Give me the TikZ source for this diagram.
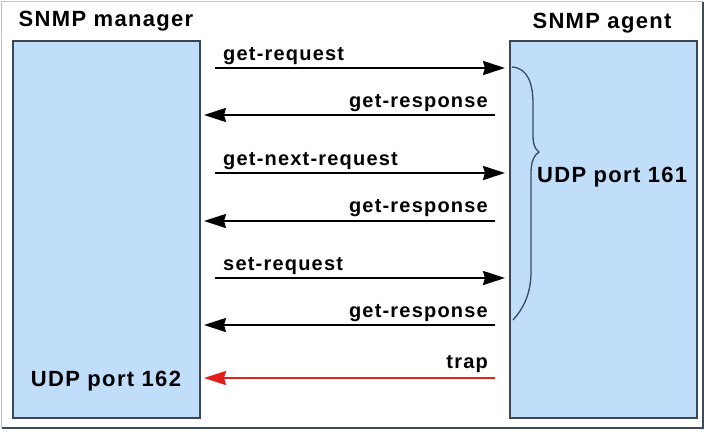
\documentclass[tikz,border=0pt]{standalone}
\usepackage{fontspec}
\usetikzlibrary{arrows.meta}
\newfontfamily\diafont{Liberation Sans}[LetterSpace=6]
\definecolor{boxfill}{RGB}{192,221,250}
\definecolor{boxline}{RGB}{60,70,80}
\definecolor{bracecol}{RGB}{55,75,100}
\definecolor{framelight}{RGB}{170,200,225}
\definecolor{framedark}{RGB}{60,75,90}
\definecolor{trapred}{RGB}{225,30,30}
\tikzset{
  hostbox/.style={draw=boxline, line width=1.6pt, fill=boxfill, minimum width=187pt, minimum height=377pt, inner sep=0pt},
  title/.style={font=\diafont\bfseries\fontsize{22}{25}\selectfont, inner sep=0pt},
  lbl/.style={font=\diafont\bfseries\fontsize{20}{23}\selectfont, inner sep=0pt},
  msg/.style={line width=2.2pt, -{Stealth[length=22pt,width=14pt,inset=2pt]}},
}
\begin{document}
\begin{tikzpicture}[x=1pt,y=-1pt]
\useasboundingbox (0,0) rectangle (708,431);
\fill[white] (0,0) rectangle (708,431);
% outer frame
\draw[framelight, line width=1pt] (1.5,428) -- (1.5,1.5) -- (703,1.5);
\draw[framedark, line width=1.2pt] (1.5,428) -- (703,428) -- (703,1.5);
% hosts
\node[hostbox] (mgr) at (106.5,229.5) {};
\node[hostbox] (agt) at (603.5,229.5) {};
\node[title] (mgrt) at (106,21) {SNMP manager};
\node[title] (agtt) at (602,23) {SNMP agent};
\node[title] (p162) at (106,381) {UDP port 162};
\node[title, anchor=west] (p161) at (537,177) {UDP port 161};
% message end points
\coordinate (a1s) at (215,68);  \coordinate (a1e) at (505,68);
\coordinate (a2s) at (495,115); \coordinate (a2e) at (204,115);
\coordinate (a3s) at (215,173); \coordinate (a3e) at (505,173);
\coordinate (a4s) at (495,221); \coordinate (a4e) at (204,221);
\coordinate (a5s) at (215,278); \coordinate (a5e) at (505,278);
\coordinate (a6s) at (495,325); \coordinate (a6e) at (204,325);
\coordinate (a7s) at (495,378); \coordinate (a7e) at (204,378);
\draw[msg] (a1s) -- (a1e);
\draw[msg] (a2s) -- (a2e);
\draw[msg] (a3s) -- (a3e);
\draw[msg] (a4s) -- (a4e);
\draw[msg] (a5s) -- (a5e);
\draw[msg] (a6s) -- (a6e);
\draw[msg, trapred] (a7s) -- (a7e);
% labels
\node[lbl, anchor=base west] (l1) at (223,60) {get-request};
\node[lbl, anchor=base east] (l2) at (488,107) {get-response};
\node[lbl, anchor=base west] (l3) at (223,165) {get-next-request};
\node[lbl, anchor=base east] (l4) at (488,212) {get-response};
\node[lbl, anchor=base west] (l5) at (223,270) {set-request};
\node[lbl, anchor=base east] (l6) at (488,317) {get-response};
\node[lbl, anchor=base east] (l7) at (488,368) {trap};
% brace
\draw[bracecol, line width=1.3pt] (512,67) .. controls (528,68) and (533,84) .. (533,104)
  -- (533,134) .. controls (533,145) and (535,149) .. (539,152)
  .. controls (534,155) and (531,162) .. (531,173)
  -- (531,272) .. controls (531,294) and (523,309) .. (513,320);
\end{tikzpicture}
\end{document}
